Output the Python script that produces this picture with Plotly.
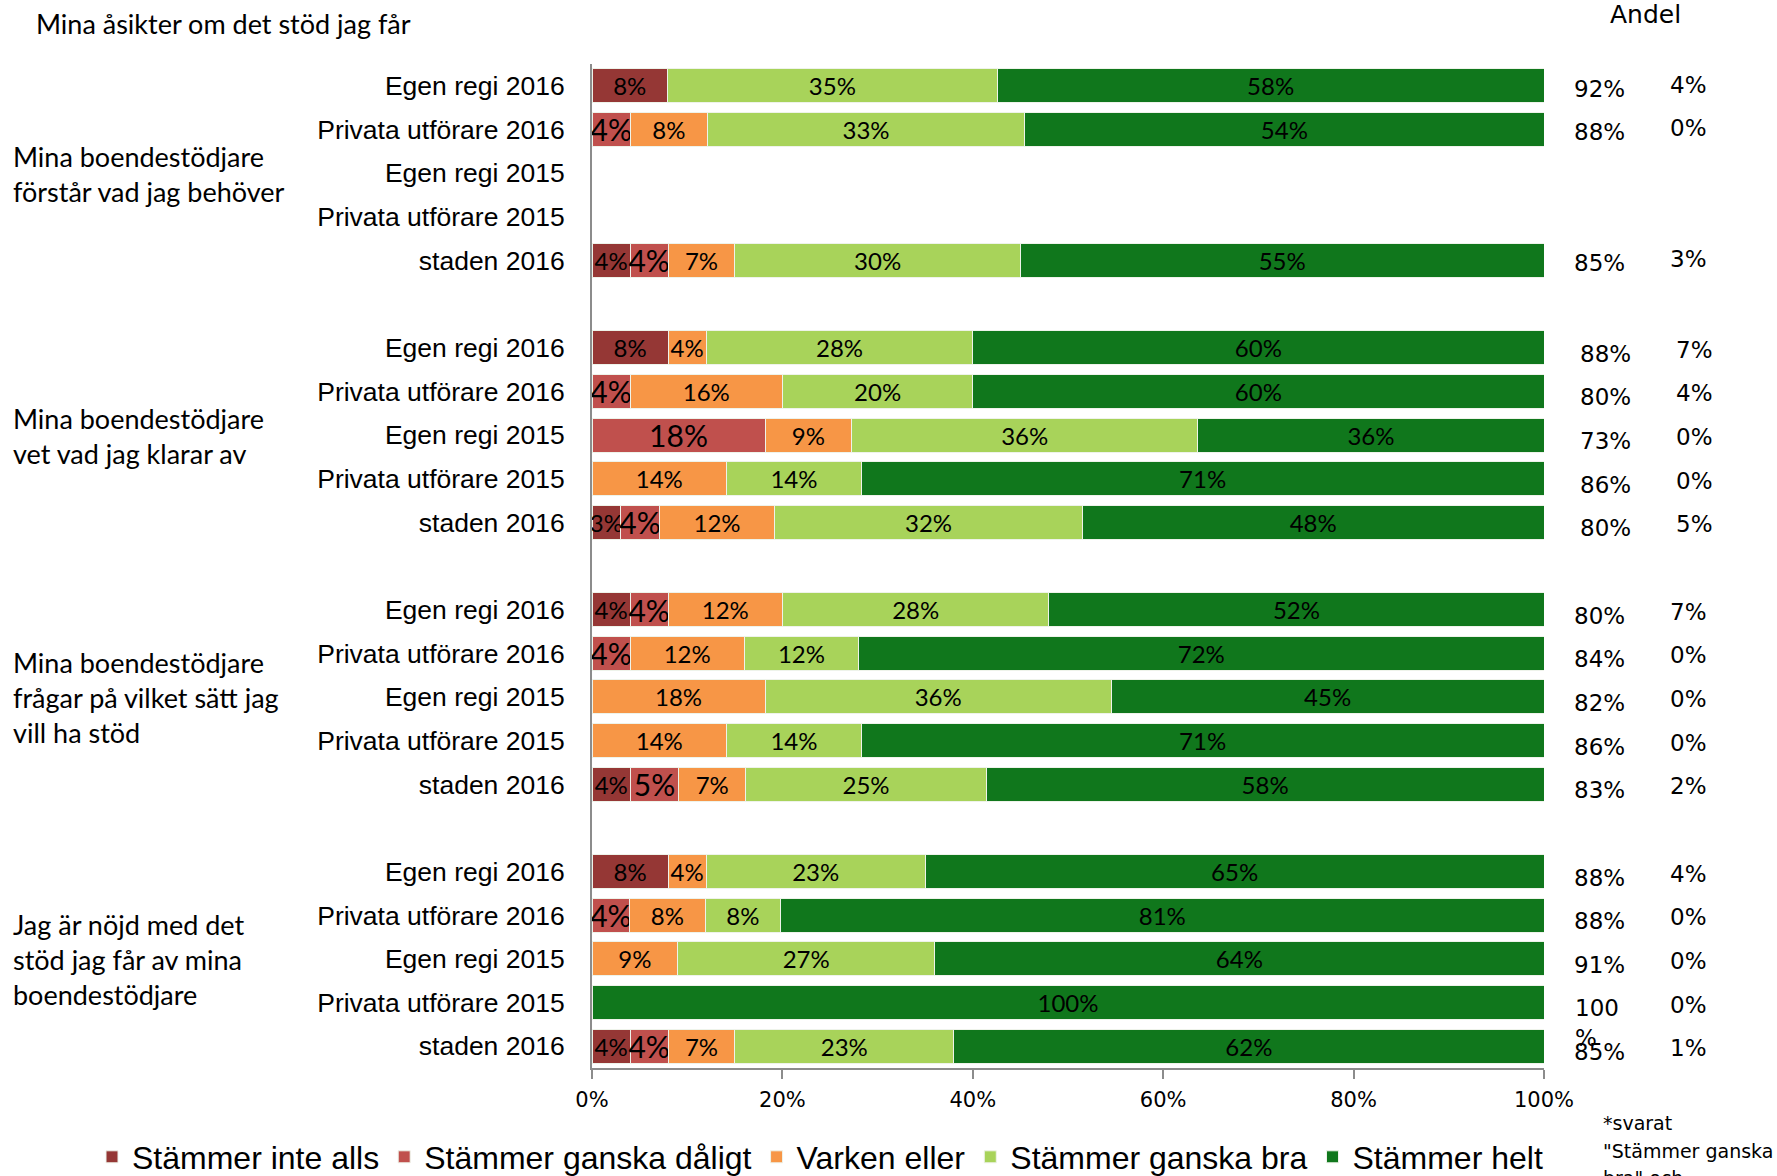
import plotly.graph_objects as go

# ---------------- data ----------------
title_text = "Mina åsikter om det stöd jag får"
questions = [
    "Mina boendestödjare<br>förstår vad jag behöver",
    "Mina boendestödjare<br>vet vad jag klarar av",
    "Mina boendestödjare<br>frågar på vilket sätt jag<br>vill ha stöd",
    "Jag är nöjd med det<br>stöd jag får av mina<br>boendestödjare",
]
rows = ["Egen regi 2016", "Privata utförare 2016", "Egen regi 2015",
        "Privata utförare 2015", "staden 2016"]

series_names = ["Stämmer inte alls", "Stämmer ganska dåligt", "Varken eller",
                "Stämmer ganska bra", "Stämmer helt"]

inte_alls = [8, 0, None, None, 4,   8, 0, 0, 0, 3,     4, 0, 0, 0, 4,     8, 0, 0, 0, 4]
daligt    = [0, 4, None, None, 4,   0, 4, 18, 0, 4,    4, 4, 0, 0, 5,     0, 4, 0, 0, 4]
varken    = [0, 8, None, None, 7,   4, 16, 9, 14, 12,  12, 12, 18, 14, 7, 4, 8, 9, 0, 7]
bra       = [35, 33, None, None, 30, 28, 20, 36, 14, 32, 28, 12, 36, 14, 25, 23, 8, 27, 0, 23]
helt      = [58, 54, None, None, 55, 60, 60, 36, 71, 48, 52, 72, 45, 71, 58, 65, 81, 64, 100, 62]

andel_1 = ["92%", "88%", "", "", "85%",
           "88%", "80%", "73%", "86%", "80%",
           "80%", "84%", "82%", "86%", "83%",
           "88%", "88%", "91%", "100<br>%", "85%"]
andel_2 = ["4%", "0%", "", "", "3%",
           "7%", "4%", "0%", "0%", "5%",
           "7%", "0%", "0%", "0%", "2%",
           "4%", "0%", "0%", "0%", "1%"]

x_ticks = [0, 20, 40, 60, 80, 100]
x_tick_labels = ["0%", "20%", "40%", "60%", "80%", "100%"]

footnote_lines = ["*svarat", "\"Stämmer ganska", "bra\" och"]

colors = ["#953735", "#C0504D", "#F79646", "#A8D35A", "#10771C"]
label_sizes = [24, 30, 24, 24, 24]

# ---------------- layout helpers ----------------
W, H = 1777, 1176
L, R, T, B = 592, 233, 64, 108
pw, ph = W - L - R, H - T - B

def px_x(x):  # pixel -> paper x
    return (x - L) / pw

def px_y(y):  # pixel -> paper y
    return 1 - (y - T) / ph

n_rows = len(rows)
positions = []
labels = []
groups = []
for g in range(len(questions)):
    for i in range(n_rows):
        positions.append(g * (n_rows + 1) + i)
        labels.append(rows[i])
        groups.append(g)

all_series = [inte_alls, daligt, varken, bra, helt]

fig = go.Figure()
for name, vals, col, fs in zip(series_names, all_series, colors, label_sizes):
    txt = [f"{v}%" if v else "" for v in vals]
    fig.add_trace(go.Bar(
        y=positions, x=vals, orientation="h", name=name,
        marker=dict(color=col, line=dict(color="#EEF3EA", width=1)),
        text=txt, textposition="inside", insidetextanchor="middle",
        textangle=0, constraintext="none", cliponaxis=False,
        insidetextfont=dict(family="Lato", size=fs, color="#000000"),
        hoverinfo="skip",
    ))

annotations = []
# group labels
for g, q in enumerate(questions):
    mid = g * (n_rows + 1) + (n_rows - 1) / 2
    annotations.append(dict(
        x=px_x(11), xref="paper", y=mid, yref="y", yshift=-1,
        text=q, showarrow=False, xanchor="left", yanchor="middle", align="left",
        font=dict(family="Lato", size=27, color="#000000"),
    ))
# right columns (second group's text boxes sit a little further right)
group_dx = [0, 6, 0, 0]
group_dy = [0, -3, -3, -3]
for p, g, a1, a2 in zip(positions, groups, andel_1, andel_2):
    dx, dy = group_dx[g], group_dy[g]
    if a1:
        if "<br>" in a1:
            annotations.append(dict(
                x=px_x(1573 + dx), xref="paper", y=p, yref="y", yshift=10,
                text=a1, showarrow=False, xanchor="left", yanchor="top", align="left",
                font=dict(family="DejaVu Sans", size=23, color="#000000"),
            ))
        else:
            annotations.append(dict(
                x=px_x(1599 + dx), xref="paper", y=p, yref="y", yshift=-3 + dy,
                text=a1, showarrow=False, xanchor="center", yanchor="middle",
                font=dict(family="DejaVu Sans", size=23, color="#000000"),
            ))
    if a2:
        annotations.append(dict(
            x=px_x(1688 + dx), xref="paper", y=p, yref="y", yshift=1 + dy,
            text=a2, showarrow=False, xanchor="center", yanchor="middle",
            font=dict(family="DejaVu Sans", size=23, color="#000000"),
        ))
# header, title, footnote
annotations.append(dict(
    x=px_x(1645), xref="paper", y=px_y(14), yref="paper", text="Andel",
    showarrow=False, xanchor="center", yanchor="middle",
    font=dict(family="DejaVu Sans", size=25, color="#000000"),
))
annotations.append(dict(
    x=px_x(34), xref="paper", y=px_y(23), yref="paper", text=title_text,
    showarrow=False, xanchor="left", yanchor="middle",
    font=dict(family="Lato", size=27, color="#000000"),
))
for k, line in enumerate(footnote_lines):
    annotations.append(dict(
        x=px_x(1601), xref="paper", y=px_y(1123 + 27.5 * k), yref="paper", text=line,
        showarrow=False, xanchor="left", yanchor="middle", align="left",
        font=dict(family="DejaVu Sans", size=19, color="#000000"),
    ))

fig.update_layout(
    width=W, height=H,
    margin=dict(l=L, r=R, t=T, b=B, autoexpand=False),
    paper_bgcolor="white", plot_bgcolor="white",
    barmode="stack", barnorm="percent", bargap=0.22,
    showlegend=True,
    legend=dict(
        orientation="h", x=px_x(92), xanchor="left", y=px_y(1157), yanchor="middle",
        font=dict(family="Liberation Sans", size=32, color="#000000"),
        traceorder="normal", bgcolor="rgba(0,0,0,0)", itemclick=False,
    ),
    xaxis=dict(
        range=[0, 100], tickvals=x_ticks, ticktext=x_tick_labels,
        showgrid=False, zeroline=False, showline=True, linecolor="#8C8C8C", linewidth=2,
        ticks="outside", ticklen=9, tickcolor="#8C8C8C", tickwidth=1.5,
        ticklabelstandoff=3,
        tickfont=dict(family="DejaVu Sans", size=21, color="#000000"),
    ),
    yaxis=dict(
        range=[positions[-1] + 0.5, -0.5], tickvals=positions, ticktext=labels,
        showgrid=False, zeroline=False, showline=True, linecolor="#8C8C8C", linewidth=2,
        ticks="", ticklabelstandoff=20,
        tickfont=dict(family="Liberation Sans", size=26.5, color="#000000"),
    ),
    annotations=annotations,
)

fig.write_html("out.html", config={"displayModeBar": False},
               post_script="document.body.style.margin='0';")
